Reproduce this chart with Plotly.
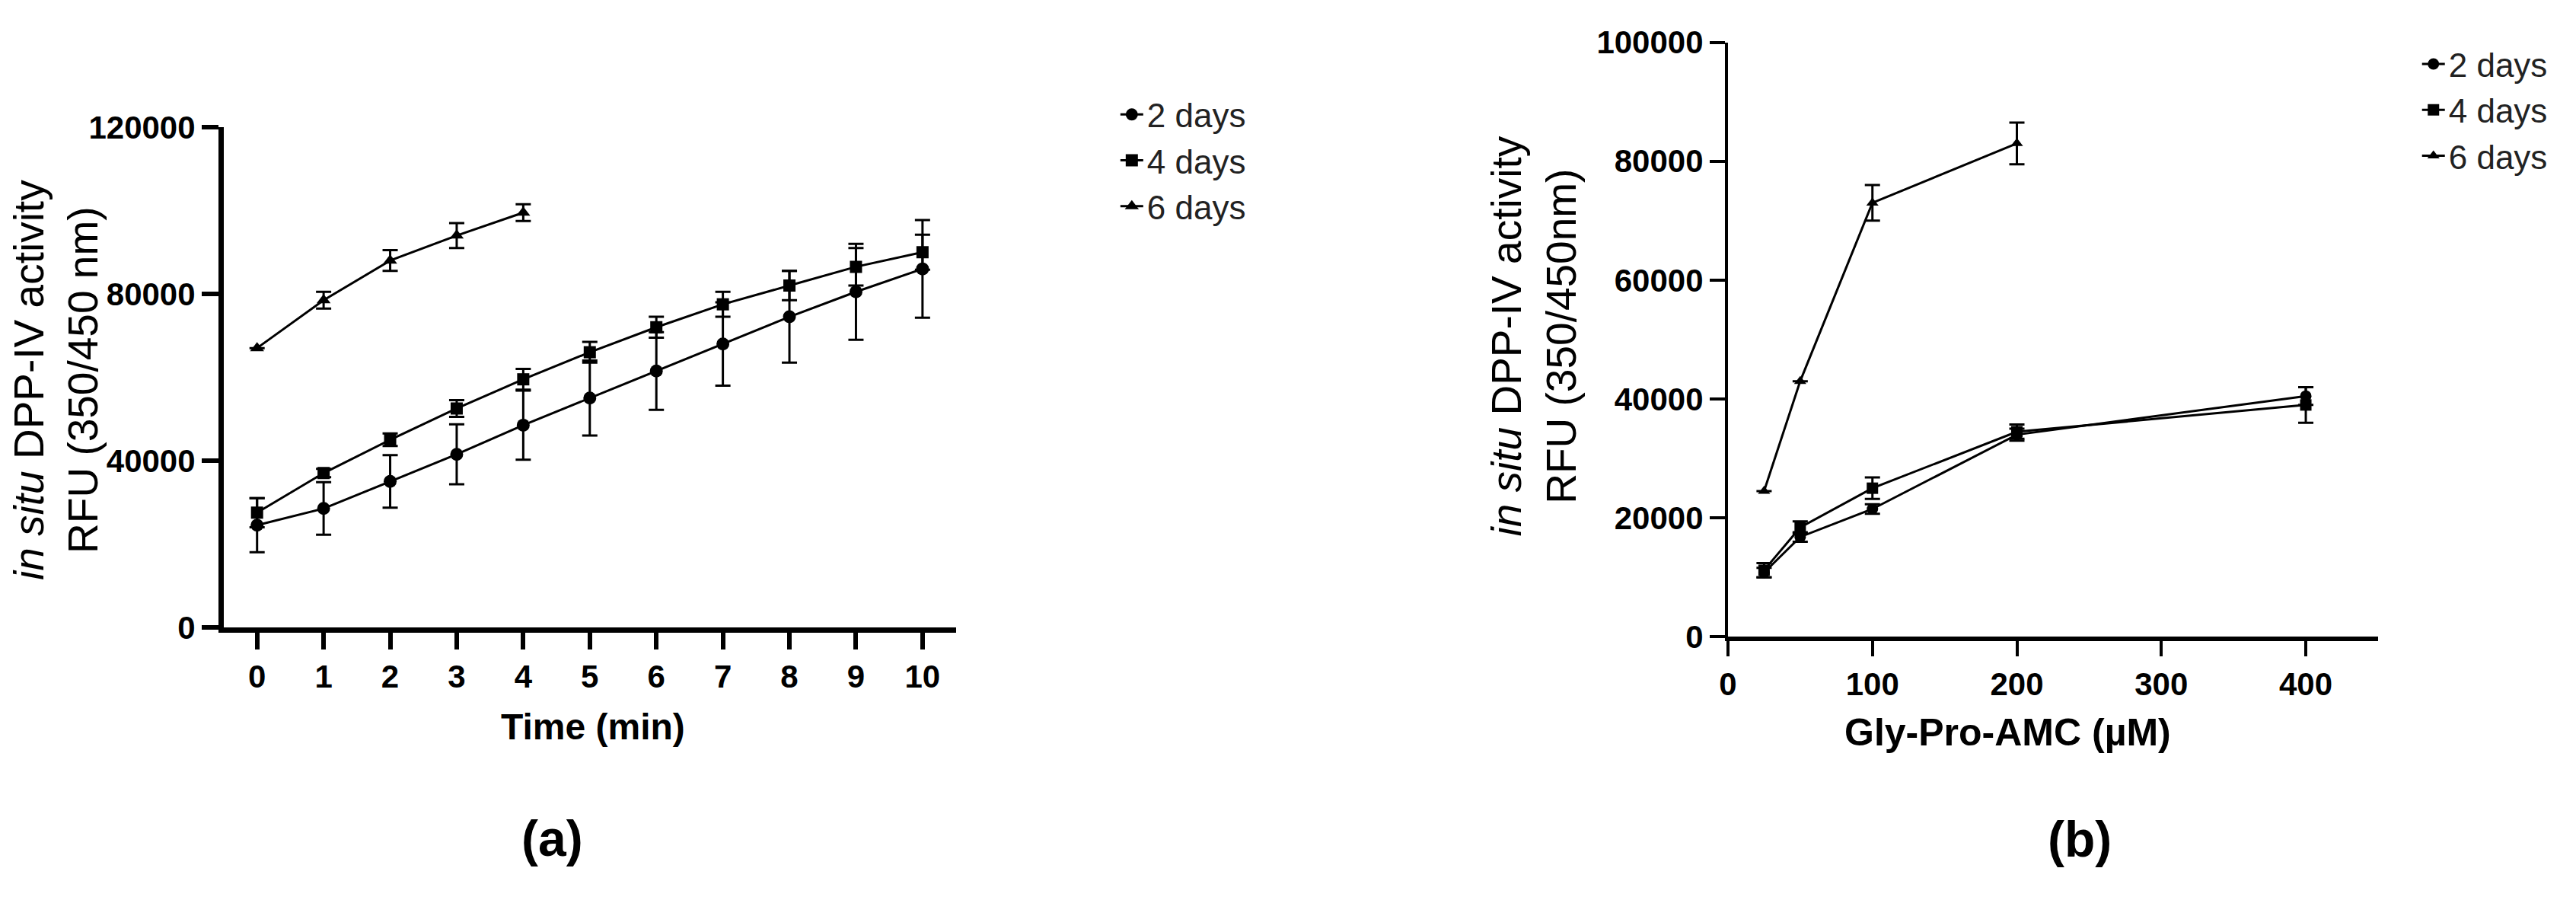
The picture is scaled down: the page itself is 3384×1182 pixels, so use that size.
import plotly.graph_objects as go

# ---------------- data: panel (a) ----------------
time_min = [0, 1, 2, 3, 4, 5, 6, 7, 8, 9, 10]
time_min_6d = [0, 1, 2, 3, 4]
a_2days = [24500, 28500, 35000, 41500, 48500, 55000, 61500, 68000, 74500, 80500, 86000]
a_2days_err = [6500, 6300, 6300, 7200, 8300, 9000, 9300, 10000, 11000, 11500, 11700]
a_4days = [27500, 37000, 45000, 52500, 59500, 66000, 72000, 77500, 82000, 86500, 90000]
a_4days_err = [3500, 1000, 1500, 2000, 2500, 2500, 2500, 3000, 3500, 4500, 4200]
a_6days = [67000, 78500, 88000, 94000, 99500]
a_6days_err = [0, 2000, 2500, 3000, 2000]

# ---------------- data: panel (b) ----------------
gpa_uM = [25, 50, 100, 200, 400]
gpa_uM_6d = [25, 50, 100, 200]
b_2days = [10800, 16800, 21500, 34000, 40500]
b_2days_err = [800, 800, 800, 1000, 1500]
b_4days = [11200, 18400, 25000, 34500, 39000]
b_4days_err = [1200, 1000, 1800, 1200, 3000]
b_6days = [24500, 43000, 73000, 83000]
b_6days_err = [0, 0, 3000, 3500]

series_names = ["2 days", "4 days", "6 days"]
y_ticks_a = [0, 40000, 80000, 120000]
y_ticks_b = [0, 20000, 40000, 60000, 80000, 100000]
x_ticks_b = [0, 100, 200, 300, 400]

FONT = "Liberation Sans, Arial, Helvetica, sans-serif"
W, H = 3384, 1182

fig = go.Figure()


def add_series(x, y, err, name, symbol, xa, ya, leg, msize, errw):
    fig.add_trace(go.Scatter(
        x=x, y=y, name=name, mode="lines+markers",
        xaxis=xa, yaxis=ya, legend=leg,
        line=dict(color="black", width=3),
        marker=dict(symbol=symbol, size=msize, color="black"),
        error_y=dict(type="data", array=err, visible=True,
                     color="black", thickness=3, width=errw),
    ))


# panel (a)
add_series(time_min, a_2days, a_2days_err, series_names[0], "circle", "x", "y", "legend", 17, 10)
add_series(time_min, a_4days, a_4days_err, series_names[1], "square", "x", "y", "legend", 16, 10)
add_series(time_min_6d, a_6days, a_6days_err, series_names[2], "triangle-up", "x", "y", "legend", 16, 10)
# panel (b)
add_series(gpa_uM, b_2days, b_2days_err, series_names[0], "circle", "x2", "y2", "legend2", 15, 10)
add_series(gpa_uM, b_4days, b_4days_err, series_names[1], "square", "x2", "y2", "legend2", 15, 10)
add_series(gpa_uM_6d, b_6days, b_6days_err, series_names[2], "triangle-up", "x2", "y2", "legend2", 14, 10)

tickfont = dict(family=FONT, size=42, color="black", weight="bold")


def px_x(p):
    return p / W


def px_y(p):
    return (H - p) / H


axis_common = dict(showgrid=False, zeroline=False, showline=True, linecolor="black",
                   ticks="outside", tickcolor="black", tickfont=tickfont, mirror=False)

legend_font = dict(family=FONT, size=44, color="#222")

fig.update_layout(
    width=W, height=H, autosize=False,
    margin=dict(l=0, r=0, t=0, b=0),
    paper_bgcolor="white", plot_bgcolor="white",
    font=dict(family=FONT, color="black"),
    xaxis=dict(domain=[px_x(283), px_x(1248)], range=[-0.5, 10.5], anchor="y",
               tickmode="array", tickvals=time_min, linewidth=7, tickwidth=6, ticklen=22,
               **axis_common),
    yaxis=dict(domain=[px_y(834), px_y(150)], range=[0, 120000], anchor="x",
               tickmode="array", tickvals=y_ticks_a, tickformat="d",
               linewidth=7, tickwidth=6, ticklen=22, **axis_common),
    xaxis2=dict(domain=[px_x(2266), px_x(3123)], range=[0, 450], anchor="y2",
                tickmode="array", tickvals=x_ticks_b, linewidth=6, tickwidth=4, ticklen=20,
                **axis_common),
    yaxis2=dict(domain=[px_y(847), px_y(34)], range=[0, 100000], anchor="x2",
                tickmode="array", tickvals=y_ticks_b, tickformat="d",
                linewidth=4, tickwidth=4, ticklen=20, **axis_common),
    legend=dict(x=px_x(1460), y=px_y(96), xanchor="left", yanchor="top",
                font=legend_font, bgcolor="rgba(0,0,0,0)",
                itemwidth=30, tracegroupgap=0),
    legend2=dict(x=px_x(3176), y=px_y(27), xanchor="left", yanchor="top",
                 font=legend_font, bgcolor="rgba(0,0,0,0)",
                 itemwidth=30, tracegroupgap=0),
)

ytitle = "<i>in situ</i> DPP-IV activity<br>RFU (350/450 nm)"
ytitle_b = "<i>in situ</i> DPP-IV activity<br>RFU (350/450nm)"
ann = [
    dict(text=ytitle, x=px_x(62), y=px_y(496), textangle=-90,
         font=dict(family=FONT, size=55, color="black")),
    dict(text=ytitle_b, x=px_x(2010), y=px_y(436), textangle=-90,
         font=dict(family=FONT, size=55, color="black")),
    dict(text="Time (min)", x=px_x(770), y=px_y(970),
         font=dict(family=FONT, size=48, color="black", weight="bold")),
    dict(text="Gly-Pro-AMC (µM)", x=px_x(2635), y=px_y(978),
         font=dict(family=FONT, size=50, color="black", weight="bold")),
    dict(text="(a)", x=px_x(716), y=px_y(1123),
         font=dict(family=FONT, size=66, color="black", weight="bold")),
    dict(text="(b)", x=px_x(2730), y=px_y(1124),
         font=dict(family=FONT, size=66, color="black", weight="bold")),
]
for a in ann:
    a.update(xref="paper", yref="paper", showarrow=False, xanchor="center", yanchor="middle")
fig.update_layout(annotations=ann)

fig.write_html("out.html")
